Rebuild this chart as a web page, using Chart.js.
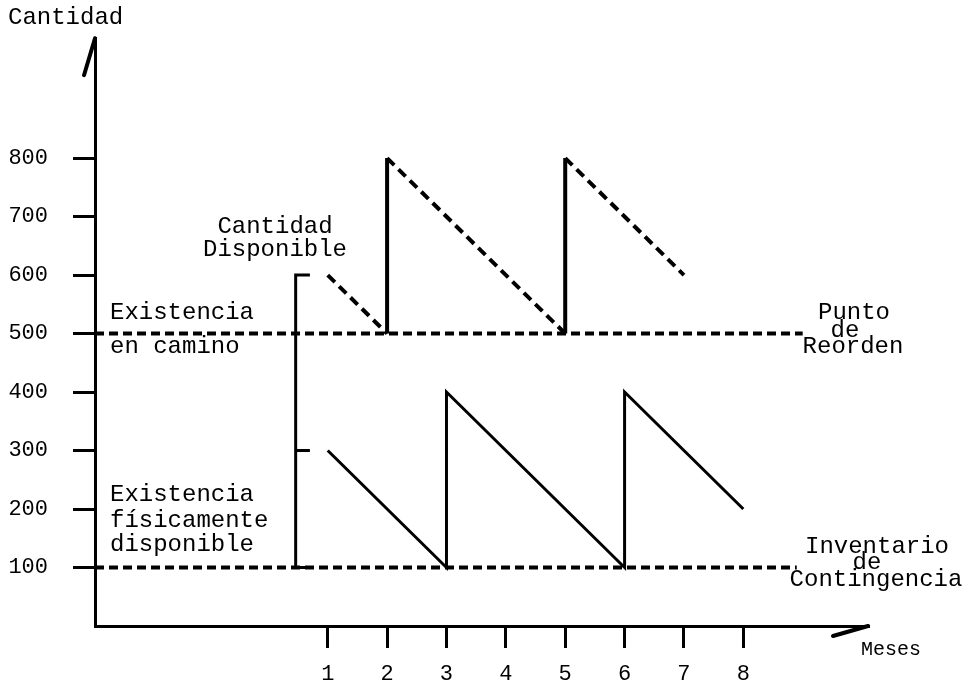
<!DOCTYPE html>
<html>
<head>
<meta charset="utf-8">
<script src="https://cdn.jsdelivr.net/npm/chart.js@4.4.1/dist/chart.umd.min.js"></script>
<style>
  body { margin: 0; background: #fff; }
  #wrap { width: 979px; height: 687px; position: relative; }
</style>
</head>
<body>
<div id="wrap"><canvas id="inventario"></canvas></div>
<script>
// Datos del gráfico
const meses = [1, 2, 3, 4, 5, 6, 7, 8];
const cantidadTicks = [100, 200, 300, 400, 500, 600, 700, 800];

// Cantidad disponible (línea punteada)
const dispMeses = [1, 2, 2, 5, 5, 7];
const dispCantidad = [600, 500, 800, 500, 800, 600];

// Existencia físicamente disponible (línea sólida)
const fisMeses = [1, 3, 3, 6, 6, 8];
const fisCantidad = [300, 100, 400, 100, 400, 200];

// Punto de reorden e inventario de contingencia
const puntoReorden = 500;
const puntoReordenFin = 9.0;
const contingencia = 100;
const contingenciaFin = 8.9;

// Corchete "existencia en camino" / "físicamente disponible"
const corcheteMes = 0.46;
const corcheteTickFin = 0.7;
const corcheteNiveles = [600, 300, 100];

const xMin = -2.92, xMax = 10.1;
const yMin = 0, yMax = 1005;

const toPoints = (xs, ys) => xs.map((x, i) => ({ x: x, y: ys[i] }));

const corchetePts = [];
corcheteNiveles.forEach((nivel, i) => {
    corchetePts.push({ x: corcheteTickFin, y: nivel });
    corchetePts.push({ x: corcheteMes, y: nivel });
    if (i < corcheteNiveles.length - 1) {
        corchetePts.push({ x: corcheteMes, y: corcheteNiveles[i + 1] });
    }
});

const fuente = '"Liberation Mono", "DejaVu Sans Mono", monospace';

// Textos y flechas dibujados sobre el gráfico
const anotaciones = {
    id: 'anotaciones',
    afterDraw(chart) {
        const ctx = chart.ctx;
        const a = chart.chartArea;
        ctx.save();
        ctx.fillStyle = '#000';
        ctx.strokeStyle = '#000';
        ctx.lineCap = 'round';

        // flechas de los ejes
        ctx.lineWidth = 4;
        ctx.beginPath();
        ctx.moveTo(a.left, a.top);
        ctx.lineTo(a.left - 11, a.top + 37);
        ctx.stroke();
        ctx.beginPath();
        ctx.moveTo(a.right, a.bottom);
        ctx.lineTo(a.right - 35, a.bottom + 10);
        ctx.stroke();

        ctx.textBaseline = 'middle';
        ctx.font = '24px ' + fuente;
        ctx.textAlign = 'left';
        ctx.fillText('Cantidad', 8, 18);
        ctx.fillText('Existencia', 110, 313);
        ctx.fillText('en camino', 110, 347);
        ctx.fillText('Existencia', 110, 495);
        ctx.fillText('físicamente', 110, 521);
        ctx.fillText('disponible', 110, 545);

        ctx.textAlign = 'center';
        ctx.fillText('Cantidad', 275, 227);
        ctx.fillText('Disponible', 275, 250);
        ctx.fillText('Punto', 854, 313);
        ctx.fillText('de', 845, 331);
        ctx.fillText('Reorden', 853, 347);
        ctx.fillText('Inventario', 877, 547);
        ctx.fillText('de', 867, 563);
        ctx.fillText('Contingencia', 876, 580);

        ctx.textAlign = 'left';
        ctx.font = '20px ' + fuente;
        ctx.fillText('Meses', 861, 650);
        ctx.restore();
    }
};

const segDash = (dash) => ctx =>
    ctx.p0.parsed.x === ctx.p1.parsed.x ? [] : dash;

new Chart(document.getElementById('inventario'), {
    type: 'scatter',
    data: {
        datasets: [
            {
                label: 'Cantidad Disponible',
                data: toPoints(dispMeses, dispCantidad),
                showLine: true,
                borderColor: '#000',
                borderWidth: 4,
                pointRadius: 0,
                segment: { borderDash: segDash([10, 6]) }
            },
            {
                label: 'Existencia físicamente disponible',
                data: toPoints(fisMeses, fisCantidad),
                showLine: true,
                borderColor: '#000',
                borderWidth: 3,
                pointRadius: 0
            },
            {
                label: 'Punto de Reorden',
                data: [{ x: xMin, y: puntoReorden }, { x: puntoReordenFin, y: puntoReorden }],
                showLine: true,
                borderColor: '#000',
                borderWidth: 4,
                borderDash: [9, 5],
                pointRadius: 0
            },
            {
                label: 'Inventario de Contingencia',
                data: [{ x: xMin, y: contingencia }, { x: contingenciaFin, y: contingencia }],
                showLine: true,
                borderColor: '#000',
                borderWidth: 4,
                borderDash: [9, 5],
                pointRadius: 0
            },
            {
                label: 'corchete',
                data: corchetePts,
                showLine: true,
                borderColor: '#000',
                borderWidth: 3,
                pointRadius: 0
            }
        ]
    },
    options: {
        responsive: true,
        maintainAspectRatio: false,
        animation: false,
        layout: { padding: { top: 33, right: 111, left: 0, bottom: 0 } },
        plugins: {
            legend: { display: false },
            tooltip: { enabled: false }
        },
        scales: {
            x: {
                type: 'linear',
                min: xMin,
                max: xMax,
                afterBuildTicks: scale => { scale.ticks = meses.map(v => ({ value: v })); },
                afterFit: scale => { scale.height = 61; },
                border: { display: true, color: '#000', width: 3 },
                grid: { drawOnChartArea: false, drawTicks: true, tickLength: 22, color: '#000', lineWidth: 3 },
                ticks: { color: '#000', padding: 13, font: { family: fuente, size: 22 } }
            },
            y: {
                type: 'linear',
                min: yMin,
                max: yMax,
                afterBuildTicks: scale => { scale.ticks = cantidadTicks.map(v => ({ value: v })); },
                afterFit: scale => { scale.width = 95; },
                border: { display: true, color: '#000', width: 3 },
                grid: { drawOnChartArea: false, drawTicks: true, tickLength: 22, color: '#000', lineWidth: 3 },
                ticks: { color: '#000', padding: 25, font: { family: fuente, size: 22 } }
            }
        }
    },
    plugins: [anotaciones]
});
</script>
</body>
</html>
